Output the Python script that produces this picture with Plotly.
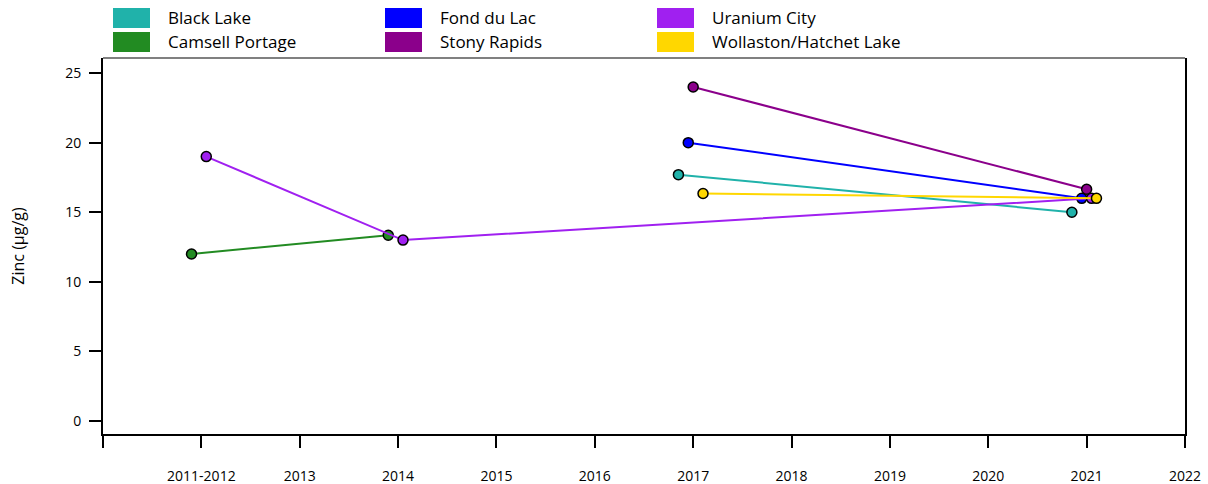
import plotly.graph_objects as go

# ---- data ----
series_names = ["Black Lake", "Camsell Portage", "Fond du Lac", "Stony Rapids",
                "Uranium City", "Wollaston/Hatchet Lake"]
black_lake_x = [2016.85, 2020.85]
black_lake_y = [17.7, 15.0]
camsell_x = [2011.9, 2013.9]
camsell_y = [12.0, 13.35]
fond_du_lac_x = [2016.95, 2020.95]
fond_du_lac_y = [20.0, 16.0]
stony_x = [2017.0, 2021.0]
stony_y = [24.0, 16.65]
uranium_x = [2012.05, 2014.05, 2021.05]
uranium_y = [19.0, 13.0, 16.0]
wollaston_x = [2017.1, 2021.1]
wollaston_y = [16.35, 16.0]

tick_vals = [2011, 2012, 2013, 2014, 2015, 2016, 2017, 2018, 2019, 2020, 2021, 2022]
tick_text = ["", "2011-2012", "2013", "2014", "2015", "2016", "2017", "2018", "2019",
             "2020", "2021", "2022"]
y_ticks = [0, 5, 10, 15, 20, 25]

colors = ["#20B2AA", "#228B22", "#0000FF", "#8B008B", "#A020F0", "#FFD700"]
xs = [black_lake_x, camsell_x, fond_du_lac_x, stony_x, uranium_x, wollaston_x]
ys = [black_lake_y, camsell_y, fond_du_lac_y, stony_y, uranium_y, wollaston_y]

FONT = "Open Sans"
W, H = 1208, 484
L, R, T, B = 103, 23, 58, 50

fig = go.Figure()
for name, x, y, c in zip(series_names, xs, ys, colors):
    fig.add_trace(go.Scatter(
        x=x, y=y, mode="lines+markers", name=name,
        line=dict(color=c, width=2),
        marker=dict(color=c, size=10, line=dict(color="black", width=1.5)),
        showlegend=False,
    ))

pw = W - L - R
ph = H - T - B


def px_x(p):
    return (p - L) / pw


def px_y(p):
    return (H - B - p) / ph


# manual legend (3 columns x 2 rows)
shapes = []
annotations = []
col_x = [113, 385, 657]
row_y = [8, 32]
order = [(0, 0), (0, 1), (1, 0), (1, 1), (2, 0), (2, 1)]
for (ci, ri), name, c in zip(order, series_names, colors):
    x0 = col_x[ci]
    y0 = row_y[ri]
    shapes.append(dict(type="rect", xref="paper", yref="paper",
                       x0=px_x(x0), x1=px_x(x0 + 37), y0=px_y(y0 + 20), y1=px_y(y0),
                       fillcolor=c, line=dict(width=0)))
    annotations.append(dict(xref="paper", yref="paper", x=px_x(x0 + 53), y=px_y(y0 + 10),
                            text=name, showarrow=False, xanchor="left", yanchor="middle",
                            font=dict(family=FONT, size=17, color="black")))

# gray top border
shapes.append(dict(type="line", xref="paper", yref="paper", x0=0, x1=1, y0=1, y1=1,
                   line=dict(color="#808080", width=2)))

fig.update_layout(
    width=W, height=H,
    margin=dict(l=L, r=R, t=T, b=B, autoexpand=False),
    plot_bgcolor="white", paper_bgcolor="white",
    font=dict(family=FONT, size=14, color="black"),
    shapes=shapes, annotations=annotations,
    xaxis=dict(range=[2011, 2022], tickvals=tick_vals, ticktext=tick_text,
               showline=True, linecolor="black", linewidth=2, showgrid=False,
               zeroline=False, ticks="outside", ticklen=12, tickwidth=2,
               tickcolor="black", ticklabelstandoff=16,
               tickfont=dict(family=FONT, size=14)),
    yaxis=dict(range=[-0.93, 26.08], tickvals=y_ticks,
               showline=True, linecolor="black", linewidth=2, mirror=True,
               showgrid=False, zeroline=False, ticks="outside", ticklen=12,
               tickwidth=2, tickcolor="black", ticklabelstandoff=5,
               tickfont=dict(family=FONT, size=14),
               title=dict(text="Zinc (µg/g)", standoff=37,
                          font=dict(family=FONT, size=16))),
)

fig.write_html("out.html", config={"displayModeBar": False},
               post_script="document.body.style.margin='0';document.body.style.overflow='hidden';")
